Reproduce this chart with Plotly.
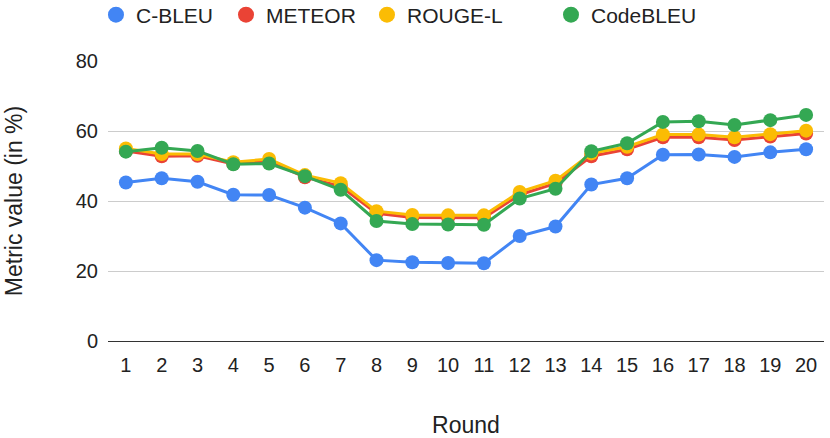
import plotly.graph_objects as go

rounds = [str(i) for i in range(1, 21)]
c_bleu = [45.3, 46.5, 45.5, 41.8, 41.7, 38.1, 33.6, 23.1, 22.5, 22.3, 22.2, 30.0, 32.7, 44.7, 46.5, 53.2, 53.3, 52.6, 53.9, 54.8]
meteor = [54.3, 52.8, 52.9, 50.6, 51.3, 46.8, 44.2, 36.5, 35.3, 35.2, 35.2, 41.8, 45.0, 52.8, 54.8, 58.2, 58.2, 57.4, 58.4, 59.3]
rouge_l = [55.0, 53.4, 53.4, 51.1, 52.0, 47.4, 45.1, 37.1, 36.0, 35.9, 35.9, 42.6, 45.8, 53.6, 55.5, 59.0, 59.0, 58.2, 59.1, 60.1]
codebleu = [54.1, 55.2, 54.3, 50.5, 50.7, 47.1, 43.2, 34.3, 33.4, 33.3, 33.2, 40.7, 43.5, 54.2, 56.5, 62.6, 62.8, 61.7, 63.1, 64.6]

series = [("C-BLEU", c_bleu, "#4285F4", "legend"), ("METEOR", meteor, "#EA4335", "legend2"),
          ("ROUGE-L", rouge_l, "#FBBC04", "legend3"), ("CodeBLEU", codebleu, "#34A853", "legend4")]

fig = go.Figure()
for name, vals, col, lg in series:
    fig.add_trace(go.Scatter(x=rounds, y=vals, name=name, mode="lines+markers",
                             line=dict(color=col, width=3),
                             marker=dict(color=col, size=14), showlegend=False))
for name, vals, col, lg in series:
    fig.add_trace(go.Scatter(x=[None], y=[None], name=name, mode="markers", legend=lg,
                             marker=dict(color=col, size=16)))

legend_style = dict(orientation="h", xanchor="left", yanchor="middle", yref="container",
                    y=1 - 15 / 438, font=dict(size=21, color="#222222"), bgcolor="rgba(0,0,0,0)")
fig.update_layout(
    width=830, height=438,
    margin=dict(l=108, r=6, t=61, b=97),
    paper_bgcolor="white", plot_bgcolor="white",
    hovermode=False,
    font=dict(family="Liberation Sans, Arial, sans-serif", size=20, color="#222222"),
    legend=dict(x=-0.0168, **legend_style),
    legend2=dict(x=0.1648, **legend_style),
    legend3=dict(x=0.3617, **legend_style),
    legend4=dict(x=0.6187, **legend_style),
    xaxis=dict(type="category", range=[-0.5, 19.5], showgrid=False, ticks="", automargin=False,
               ticklabelstandoff=10,
               title=dict(text="Round", font=dict(size=23), standoff=44),
               tickfont=dict(size=20)),
    yaxis=dict(range=[0, 80], tickvals=[0, 20, 40, 60, 80], gridcolor="#CCCCCC", gridwidth=1,
               zeroline=True, zerolinecolor="#333333", zerolinewidth=1, ticks="", automargin=False,
               ticklabelstandoff=9,
               title=dict(text="Metric value (in %)", font=dict(size=23), standoff=46),
               tickfont=dict(size=20)),
)
fig.write_html("out.html", config={"displayModeBar": False},
               post_script="document.body.style.margin='0';")
